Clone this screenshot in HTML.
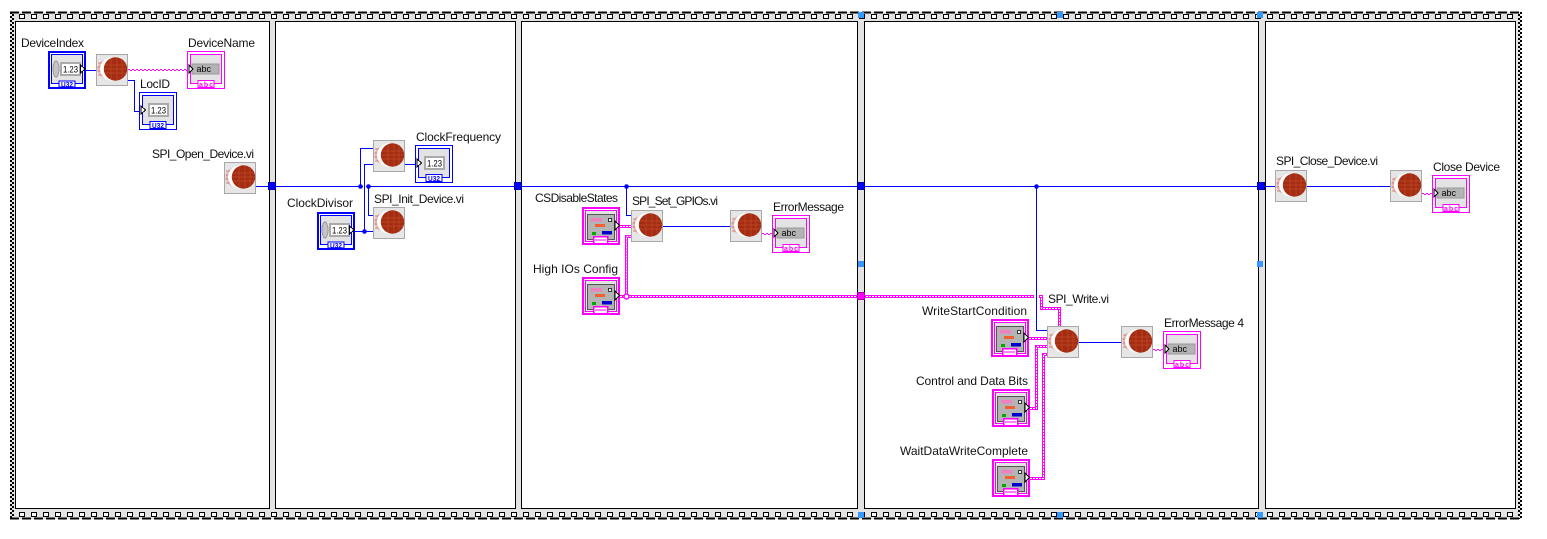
<!DOCTYPE html>
<html><head><meta charset="utf-8"><style>
html,body{margin:0;padding:0;background:#fff;width:1547px;height:539px;overflow:hidden}
svg{display:block}
.l{font:12px "Liberation Sans",sans-serif;fill:#111}
.s{font:9px "Liberation Sans",sans-serif;fill:#000}
.t{font:bold 7px "Liberation Sans",sans-serif}
</style></head><body>
<svg width="1547" height="539" viewBox="0 0 1547 539" xmlns="http://www.w3.org/2000/svg" shape-rendering="crispEdges">
<defs>
<pattern id="st" x="19" y="14" width="12" height="5" patternUnits="userSpaceOnUse"><rect x=".5" y=".5" width="5" height="4" fill="#fff" stroke="#000"/></pattern>
<pattern id="sb" x="19" y="512" width="12" height="5" patternUnits="userSpaceOnUse"><rect x=".5" y=".5" width="5" height="4" fill="#fff" stroke="#000"/></pattern>
<symbol id="vi" width="33" height="33" viewBox="0 0 33 33">
<rect x=".5" y=".5" width="31" height="31" fill="#e6e6e6" stroke="#a8a8a8"/>
<g shape-rendering="auto">
<circle cx="11" cy="15" r="9.500" fill="#e8b8b4"/>
<path d="M2 9h12M1.500 13h12M1.500 17h12M2 21h12" stroke="#c96a60" stroke-width=".8"/>
<circle cx="15.500" cy="15" r="11.500" fill="#fff"/>
<circle cx="19.500" cy="15" r="11.700" fill="#a52c12"/>
<path d="M8.500 11h22M8 15h23M8.500 19h22M15 4.500v21M21 3.500v23M26 5v20" stroke="#bb4a24" stroke-width=".7" fill="none"/>
</g>
</symbol>
<symbol id="numc" width="38" height="38" viewBox="0 0 38 38">
<rect x="1" y="1" width="36" height="36" fill="#fff" stroke="#00f" stroke-width="2"/>
<rect x="3.500" y="3.500" width="31" height="29" fill="#e3e3e3" stroke="#00f"/>
<rect x="11" y="30" width="16" height="6" fill="#fff" stroke="#00f"/>
<ellipse cx="8" cy="18" rx="3" ry="8" fill="#c4c4c4" stroke="#999"/>
<rect x="12" y="11" width="21" height="14" fill="#aaa"/><rect x="14" y="13" width="17" height="10" fill="#fff"/>
<text x="15" y="21.500" class="s" textLength="15" lengthAdjust="spacingAndGlyphs">1.23</text>
<text x="13" y="36" class="t" fill="#00f" textLength="12" lengthAdjust="spacingAndGlyphs">U32</text>
<path d="M32.500 14l4.500 4-4.500 4z" fill="#fff" stroke="#000"/>
</symbol>
<symbol id="numi" width="38" height="38" viewBox="0 0 38 38">
<rect x=".5" y=".5" width="37" height="37" fill="#fff" stroke="#00f"/>
<rect x="3.500" y="3.500" width="31" height="29" fill="#e3e3e3" stroke="#00f"/>
<rect x="11" y="29.500" width="16" height="7" fill="#fff" stroke="#00f"/>
<rect x="9" y="11" width="21" height="14" fill="#aaa"/><rect x="11" y="13" width="17" height="10" fill="#fff"/>
<text x="12" y="21.500" class="s" textLength="15" lengthAdjust="spacingAndGlyphs">1.23</text>
<text x="13" y="36" class="t" fill="#00f" textLength="12" lengthAdjust="spacingAndGlyphs">U32</text>
<path d="M2 14l4.500 4-4.500 4z" fill="#fff" stroke="#000"/>
</symbol>
<symbol id="str" width="38" height="38" viewBox="0 0 38 38">
<rect x=".5" y=".5" width="37" height="37" fill="#fff" stroke="#f0f"/>
<rect x="3.500" y="3.500" width="31" height="29" fill="#e3e3e3" stroke="#f0f"/>
<rect x="11" y="29.500" width="16" height="7" fill="#fff" stroke="#f0f"/>
<rect x="5" y="13" width="27" height="10" fill="#b4b4b4" stroke="#999"/>
<text x="9.500" y="21" class="s" font-size="10">abc</text>
<text x="12" y="36" class="t" fill="#f0f" textLength="14">abc</text>
<path d="M2 14l4 4-4 4z" fill="#fff" stroke="#000"/>
</symbol>
<symbol id="clu" width="38" height="38" viewBox="0 0 38 38">
<rect x="1" y="1" width="36" height="36" fill="#fff" stroke="#f0f" stroke-width="2"/>
<rect x="3.500" y="3.500" width="31" height="31" fill="#e3e3e3" stroke="#f0f"/>
<rect x="5.500" y="7.500" width="27" height="25" fill="#b4b4b4" stroke="#555"/>
<rect x="9" y="11" width="11" height="3.500" fill="#f080c0"/>
<rect x="26.500" y="11.500" width="3" height="3" fill="#fff" stroke="#333"/>
<rect x="13" y="17" width="10" height="3" fill="#f26030"/>
<rect x="10" y="25" width="4" height="3" fill="#0a0"/>
<rect x="20" y="24" width="10" height="3.500" fill="#00c"/>
<rect x="11.500" y="29.500" width="14" height="7" fill="#fff" stroke="#f0f" stroke-width="1.500"/>
<path d="M13 33h11" stroke="#f0f"/>
<path d="M33 14l4.500 4.500-4.500 4.500z" fill="#fff" stroke="#000"/>
</symbol>
</defs>

<rect x="10" y="12" width="1511" height="507" fill="#e3e3e3"/>
<g fill="none" stroke="#000">
<path d="M10 12.500H1521M10 518.500H1521" stroke-width="2" stroke-dasharray="9 3"/>
<path d="M11 12V519M13 14V519M1519 14V519M1521 12V519" stroke-width="2" stroke-dasharray="2 2"/>
</g>
<rect x="19" y="14" width="1497" height="5" fill="url(#st)"/>
<rect x="19" y="512" width="1497" height="5" fill="url(#sb)"/>

<g fill="#fff" stroke="#000" stroke-width="1">
<rect x="15.500" y="21.500" width="254" height="487"/>
<rect x="275.500" y="21.500" width="240" height="487"/>
<rect x="521.500" y="21.500" width="336" height="487"/>
<rect x="864.500" y="21.500" width="394" height="487"/>
<rect x="1265.500" y="21.500" width="250" height="487"/>
</g>

<!-- blue wires -->
<g fill="none" stroke="#00f" stroke-width="1">
<path d="M86 70.500H96M128 80.500H134.500V111.500H139"/>
<path d="M255 186.500H1275"/>
<path d="M360.500 186.500V148.500H373M355 231.500H373M364.500 231.500V164.500H373M368.500 186.500V215.500H373M405 164.500H415"/>
<path d="M626.500 186.500V215.500H631M663 226.500H730"/>
<path d="M1079 342.500H1121M1307 186.500H1390"/>
</g>
<rect x="363" y="185" width="3" height="3" fill="#fff"/><path d="M364.500 184V189" stroke="#00f"/>

<!-- cluster wires -->
<g fill="none" stroke-linejoin="miter">
<g stroke="#f0f" stroke-width="3">
<path d="M620 226.500H631M620 296.500H1041.500V308.500H1059.500V326M626.500 296.500V236.500H631M1029 338.500H1047M1030 408.500H1036.500V346.500H1047M1030 478.500H1043.500V354.500H1047"/>
</g>
<g stroke="#fff" stroke-width="1" stroke-dasharray="2 1">
<path d="M620 226.500H631M620 296.500H1041.500V308.500H1059.500V326M626.500 296.500V236.500H631M1029 338.500H1047M1030 408.500H1036.500V346.500H1047M1030 478.500H1043.500V354.500H1047"/>
</g>
</g>
<rect x="1034" y="294" width="5" height="6" fill="#fff"/>
<path d="M1036.500 186.500V330.500H1047" fill="none" stroke="#00f"/>

<!-- string wires -->
<g fill="none" stroke="#f0f" stroke-width="1" stroke-dasharray="2 2">
<path d="M128 69.500H187M762 233.500H772M1153 349.500H1163M1422 193.500H1432"/>
<path stroke-dashoffset="2" d="M128 70.500H187M762 234.500H772M1153 350.500H1163M1422 194.500H1432"/>
</g>

<!-- tunnels -->
<g fill="#00f" stroke="#00a" stroke-width="1">
<rect x="268.500" y="182.500" width="7" height="7"/><rect x="514.500" y="182.500" width="7" height="7"/><rect x="857.500" y="182.500" width="7" height="7"/><rect x="1257.500" y="182.500" width="7" height="7"/>
</g>
<rect x="857.500" y="292.500" width="7" height="7" fill="#f0f" stroke="#a0a"/>

<!-- junctions -->
<g fill="#00f" shape-rendering="auto">
<circle cx="360.500" cy="186.500" r="2.300"/><circle cx="368.500" cy="186.500" r="2.300"/><circle cx="364.500" cy="231.500" r="2.300"/><circle cx="626.500" cy="186.500" r="2.300"/><circle cx="1036.500" cy="186.500" r="2.300"/>
</g>
<circle cx="626.500" cy="296.500" r="2.500" fill="#fff" stroke="#f0f" stroke-width="1.500" shape-rendering="auto"/>

<!-- handles -->
<g fill="#3399ff">
<rect x="858" y="12" width="6" height="6"/><rect x="1057" y="12" width="6" height="6"/><rect x="1257" y="12" width="6" height="6"/>
<rect x="858" y="261" width="6" height="6"/><rect x="1257" y="261" width="6" height="6"/>
<rect x="858" y="512" width="6" height="6"/><rect x="1057" y="512" width="6" height="6"/><rect x="1257" y="512" width="6" height="6"/>
</g>

<!-- VIs -->
<use href="#vi" x="96" y="54"/><use href="#vi" x="224" y="162"/><use href="#vi" x="373" y="140"/><use href="#vi" x="373" y="207"/>
<use href="#vi" x="631" y="210"/><use href="#vi" x="730" y="210"/><use href="#vi" x="1047" y="326"/><use href="#vi" x="1121" y="326"/>
<use href="#vi" x="1275" y="170"/><use href="#vi" x="1390" y="170"/>

<!-- terminals -->
<use href="#numc" x="48" y="51"/><use href="#numc" x="317" y="212"/>
<use href="#numi" x="139" y="92"/><use href="#numi" x="415" y="145"/>
<use href="#str" x="187" y="51"/><use href="#str" x="772" y="215"/><use href="#str" x="1163" y="331"/><use href="#str" x="1432" y="175"/>
<use href="#clu" x="582" y="207"/><use href="#clu" x="582" y="277"/><use href="#clu" x="991" y="319"/><use href="#clu" x="992" y="389"/><use href="#clu" x="992" y="459"/>

<!-- labels -->
<g class="l" shape-rendering="auto">
<text class="l" x="21" y="47" textLength="63">DeviceIndex</text>
<text class="l" x="188" y="47" textLength="67">DeviceName</text>
<text class="l" x="140" y="88" textLength="30">LocID</text>
<text class="l" x="152" y="158" textLength="102">SPI_Open_Device.vi</text>
<text class="l" x="416" y="141" textLength="85">ClockFrequency</text>
<text class="l" x="287" y="207" textLength="66">ClockDivisor</text>
<text class="l" x="374" y="203" textLength="90">SPI_Init_Device.vi</text>
<text class="l" x="535" y="202" textLength="83">CSDisableStates</text>
<text class="l" x="632" y="205" textLength="86">SPI_Set_GPIOs.vi</text>
<text class="l" x="773" y="211" textLength="71">ErrorMessage</text>
<text class="l" x="533" y="273" textLength="85">High IOs Config</text>
<text class="l" x="1048" y="303" textLength="61">SPI_Write.vi</text>
<text class="l" x="922" y="315" textLength="105">WriteStartCondition</text>
<text class="l" x="916" y="385" textLength="112">Control and Data Bits</text>
<text class="l" x="900" y="455" textLength="128">WaitDataWriteComplete</text>
<text class="l" x="1164" y="327" textLength="80">ErrorMessage 4</text>
<text class="l" x="1276" y="165" textLength="102">SPI_Close_Device.vi</text>
<text class="l" x="1433" y="171" textLength="67">Close Device</text>
</g>
</svg>
</body></html>
